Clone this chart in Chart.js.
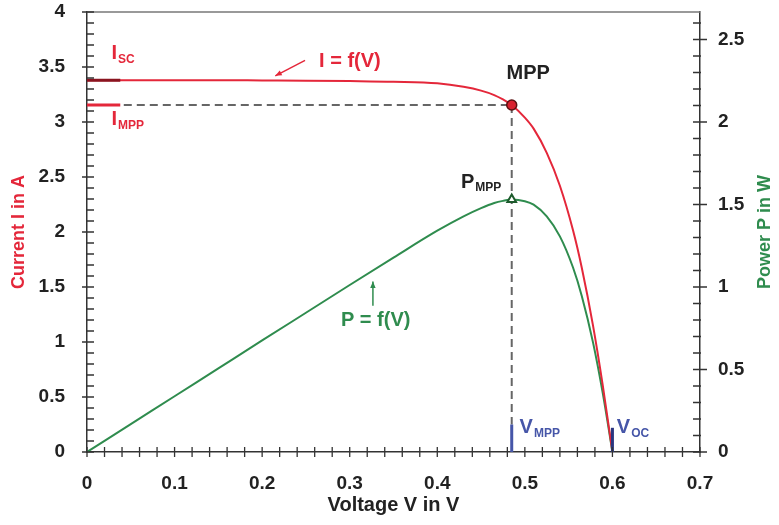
<!DOCTYPE html>
<html>
<head>
<meta charset="utf-8">
<script src="https://cdn.jsdelivr.net/npm/chart.js@4.4.0/dist/chart.umd.min.js"></script>
<style>
    html, body { margin: 0; padding: 0; background: #fff; }
    #wrap { width: 779px; height: 525px; }
</style>
</head>
<body>
<div id="wrap"><canvas id="myChart"></canvas></div>
<script>
// Voltage samples (V) with current (A) and power (W)
const voltages = [0, 0.05, 0.1, 0.15, 0.2, 0.25, 0.3, 0.35, 0.4, 0.43, 0.45, 0.465, 0.475, 0.485, 0.5, 0.51, 0.525, 0.54, 0.555, 0.565, 0.578, 0.589, 0.6];
const currents = [3.38, 3.38, 3.38, 3.38, 3.378, 3.376, 3.372, 3.366, 3.352, 3.32, 3.285, 3.245, 3.205, 3.155, 3.04, 2.94, 2.72, 2.42, 2.015, 1.675, 1.142, 0.603, 0];
const powers = [0, 0.169, 0.338, 0.507, 0.676, 0.844, 1.012, 1.178, 1.341, 1.428, 1.478, 1.509, 1.522, 1.53, 1.52, 1.499, 1.428, 1.307, 1.118, 0.946, 0.66, 0.355, 0];

// characteristic points
const vMpp = 0.485;
const iMpp = 3.155;
const pMpp = 1.53;
const iSc = 3.38;
const vOc = 0.6;

// axis ranges: min, max, major step, minor step
const xTicks = [0, 0.7, 0.1, 0.02];
const yTicks = [0, 4, 0.5, 0.1];
const y1Ticks = [0, 8 / 3, 0.5, 0.1];

const RED = '#e4273a';
const GREEN = '#2f8c4e';
const BLUE = '#4656a8';
const FONT = "'Liberation Sans', Arial, sans-serif";

function pts(xs, ys) {
    return xs.map((v, i) => ({ x: v, y: ys[i] }));
}

function fmt(v) {
    return Number(v.toFixed(2)).toString();
}

// no extra room for half tick labels at the ends
function noEndPadding(scale) {
    scale.paddingTop = 0;
    scale.paddingBottom = 0;
    scale.paddingLeft = 0;
    scale.paddingRight = 0;
}

// tick marks crossing the axes + top frame line
const tickPlugin = {
    id: 'tickMarks',
    afterDatasetsDraw(chart) {
        const ctx = chart.ctx;
        const a = chart.chartArea;
        const sx = chart.scales.x, sy = chart.scales.y, sy1 = chart.scales.y1;
        ctx.save();
        ctx.strokeStyle = '#777';
        ctx.lineWidth = 1.5;
        ctx.beginPath();
        ctx.moveTo(a.left, a.top);
        ctx.lineTo(a.right, a.top);
        ctx.stroke();

        ctx.strokeStyle = '#333';
        ctx.lineWidth = 1.3;
        ctx.beginPath();
        let n = Math.round((xTicks[1] - xTicks[0]) / xTicks[3]);
        for (let i = 0; i <= n; i++) {
            const px = sx.getPixelForValue(xTicks[0] + i * xTicks[3]);
            ctx.moveTo(px, a.bottom - 5);
            ctx.lineTo(px, a.bottom + 5);
        }
        n = Math.round((yTicks[1] - yTicks[0]) / yTicks[3]);
        for (let i = 0; i <= n; i++) {
            const py = sy.getPixelForValue(yTicks[0] + i * yTicks[3]);
            const major = i % 5 === 0;
            ctx.moveTo(a.left - (major ? 5 : 1), py);
            ctx.lineTo(a.left + 7, py);
        }
        n = Math.floor((y1Ticks[1] - y1Ticks[0]) / y1Ticks[3] + 1e-6);
        for (let i = 0; i <= n; i++) {
            const py = sy1.getPixelForValue(y1Ticks[0] + i * y1Ticks[3]);
            const major = i % 5 === 0;
            ctx.moveTo(a.right - 7, py);
            ctx.lineTo(a.right + (major ? 7 : 1), py);
        }
        ctx.stroke();
        ctx.restore();
    }
};

function subText(ctx, main, sub, x, y, color, size) {
    ctx.fillStyle = color;
    ctx.font = 'bold ' + size + 'px ' + FONT;
    ctx.fillText(main, x, y);
    const w = ctx.measureText(main).width;
    ctx.font = 'bold ' + Math.round(size * 0.6) + 'px ' + FONT;
    ctx.fillText(sub, x + w + 1, y + size * 0.28);
}

function arrow(ctx, x1, y1, x2, y2, color) {
    ctx.strokeStyle = color;
    ctx.fillStyle = color;
    ctx.lineWidth = 1.5;
    ctx.beginPath();
    ctx.moveTo(x1, y1);
    ctx.lineTo(x2, y2);
    ctx.stroke();
    const ang = Math.atan2(y2 - y1, x2 - x1);
    ctx.beginPath();
    ctx.moveTo(x2, y2);
    ctx.lineTo(x2 - 7 * Math.cos(ang - 0.4), y2 - 7 * Math.sin(ang - 0.4));
    ctx.lineTo(x2 - 7 * Math.cos(ang + 0.4), y2 - 7 * Math.sin(ang + 0.4));
    ctx.closePath();
    ctx.fill();
}

// text labels placed in data coordinates
const labelPlugin = {
    id: 'labels',
    afterDraw(chart) {
        const ctx = chart.ctx;
        const sx = chart.scales.x, sy = chart.scales.y;
        const X = v => sx.getPixelForValue(v);
        const Y = v => sy.getPixelForValue(v);
        ctx.save();
        ctx.textBaseline = 'middle';
        ctx.textAlign = 'left';

        subText(ctx, 'I', 'SC', X(0.028), Y(3.62), RED, 20);
        subText(ctx, 'I', 'MPP', X(0.028), Y(3.02), RED, 20);
        ctx.font = 'bold 20px ' + FONT;
        ctx.fillStyle = RED;
        ctx.fillText('I = f(V)', X(0.265), Y(3.55));
        arrow(ctx, X(0.249), Y(3.56), X(0.215), Y(3.42), RED);

        ctx.fillStyle = '#222';
        ctx.fillText('MPP', X(0.479), Y(3.44));
        subText(ctx, 'P', 'MPP', X(0.427), Y(2.45), '#222', 20);

        ctx.font = 'bold 20px ' + FONT;
        ctx.fillStyle = GREEN;
        ctx.fillText('P = f(V)', X(0.29), Y(1.2));
        arrow(ctx, X(0.3265), Y(1.33), X(0.3265), Y(1.55), GREEN);

        subText(ctx, 'V', 'MPP', X(0.494), Y(0.22), BLUE, 20);
        subText(ctx, 'V', 'OC', X(0.605), Y(0.22), BLUE, 20);

        // right axis title, reading bottom to top
        const a = chart.chartArea;
        ctx.translate(765, (a.top + a.bottom) / 2);
        ctx.rotate(-Math.PI / 2);
        ctx.textAlign = 'center';
        ctx.font = 'bold 18px ' + FONT;
        ctx.fillStyle = GREEN;
        ctx.fillText('Power P in W', 0, 0);
        ctx.restore();
    }
};

const ctx = document.getElementById('myChart').getContext('2d');
const tickFont = { family: FONT, size: 19, weight: 'bold' };

const myChart = new Chart(ctx, {
    type: 'line',
    data: {
        datasets: [
            {
                label: 'MPP',
                data: [{ x: vMpp, y: iMpp }],
                yAxisID: 'y',
                showLine: false,
                pointRadius: 5,
                pointBackgroundColor: '#d8202e',
                pointBorderColor: '#5a1010',
                pointBorderWidth: 1.5
            },
            {
                label: 'PMPP',
                data: [{ x: vMpp, y: pMpp }],
                yAxisID: 'y1',
                showLine: false,
                pointStyle: 'triangle',
                pointRadius: 5,
                pointBackgroundColor: '#ffffff',
                pointBorderColor: '#1d5a2c',
                pointBorderWidth: 2
            },
            {
                label: 'Isc mark',
                data: [{ x: 0, y: iSc }, { x: 0.038, y: iSc }],
                yAxisID: 'y',
                borderColor: '#8a1420',
                borderWidth: 3,
                pointRadius: 0
            },
            {
                label: 'Impp mark',
                data: [{ x: 0, y: iMpp }, { x: 0.038, y: iMpp }],
                yAxisID: 'y',
                borderColor: RED,
                borderWidth: 3,
                pointRadius: 0
            },
            {
                label: 'Vmpp mark',
                data: [{ x: vMpp, y: 0 }, { x: vMpp, y: 0.25 }],
                yAxisID: 'y',
                borderColor: BLUE,
                borderWidth: 3,
                pointRadius: 0
            },
            {
                label: 'Voc mark',
                data: [{ x: vOc, y: 0 }, { x: vOc, y: 0.22 }],
                yAxisID: 'y',
                borderColor: '#2a3680',
                borderWidth: 3,
                pointRadius: 0
            },
            {
                label: 'I = f(V)',
                data: pts(voltages, currents),
                yAxisID: 'y',
                borderColor: RED,
                borderWidth: 2,
                pointRadius: 0,
                cubicInterpolationMode: 'monotone'
            },
            {
                label: 'P = f(V)',
                data: pts(voltages, powers),
                yAxisID: 'y1',
                borderColor: GREEN,
                borderWidth: 2,
                pointRadius: 0,
                cubicInterpolationMode: 'monotone'
            },
            {
                label: 'dash h',
                data: [{ x: 0.042, y: iMpp }, { x: vMpp, y: iMpp }],
                yAxisID: 'y',
                borderColor: '#666',
                borderWidth: 2,
                borderDash: [8, 5],
                pointRadius: 0
            },
            {
                label: 'dash v',
                data: [{ x: vMpp, y: iMpp }, { x: vMpp, y: 0.25 }],
                yAxisID: 'y',
                borderColor: '#666',
                borderWidth: 2,
                borderDash: [8, 5],
                pointRadius: 0
            }
        ]
    },
    options: {
        responsive: true,
        maintainAspectRatio: false,
        animation: false,
        layout: { padding: { top: 12 } },
        plugins: {
            legend: { display: false },
            tooltip: { enabled: false }
        },
        scales: {
            x: {
                type: 'linear',
                min: xTicks[0],
                max: xTicks[1],
                grid: { display: false },
                border: { display: true, color: '#333', width: 1.5 },
                ticks: { stepSize: xTicks[2], color: '#222', font: tickFont, padding: 12, maxRotation: 0, callback: fmt },
                title: {
                    display: true,
                    text: 'Voltage V in V',
                    color: '#222',
                    font: { family: FONT, size: 20, weight: 'bold' },
                    padding: { top: 0, bottom: 8 }
                },
                afterFit(scale) { scale.height = 73; noEndPadding(scale); }
            },
            y: {
                type: 'linear',
                position: 'left',
                min: yTicks[0],
                max: yTicks[1],
                grid: { display: false },
                border: { display: true, color: '#333', width: 1.5 },
                ticks: { stepSize: yTicks[2], color: '#222', font: tickFont, padding: 14, callback: fmt },
                title: {
                    display: true,
                    text: 'Current I in A',
                    color: RED,
                    font: { family: FONT, size: 18, weight: 'bold' },
                    padding: { top: 8, bottom: 0 }
                },
                afterFit(scale) { scale.width = 87; noEndPadding(scale); }
            },
            y1: {
                type: 'linear',
                position: 'right',
                min: y1Ticks[0],
                max: y1Ticks[1],
                grid: { display: false },
                border: { display: true, color: '#333', width: 1.5 },
                ticks: { stepSize: y1Ticks[2], color: '#222', font: tickFont, padding: 10, includeBounds: false, callback: fmt },
                afterFit(scale) { scale.width = 79; noEndPadding(scale); }
            }
        }
    },
    plugins: [tickPlugin, labelPlugin]
});
</script>
</body>
</html>
